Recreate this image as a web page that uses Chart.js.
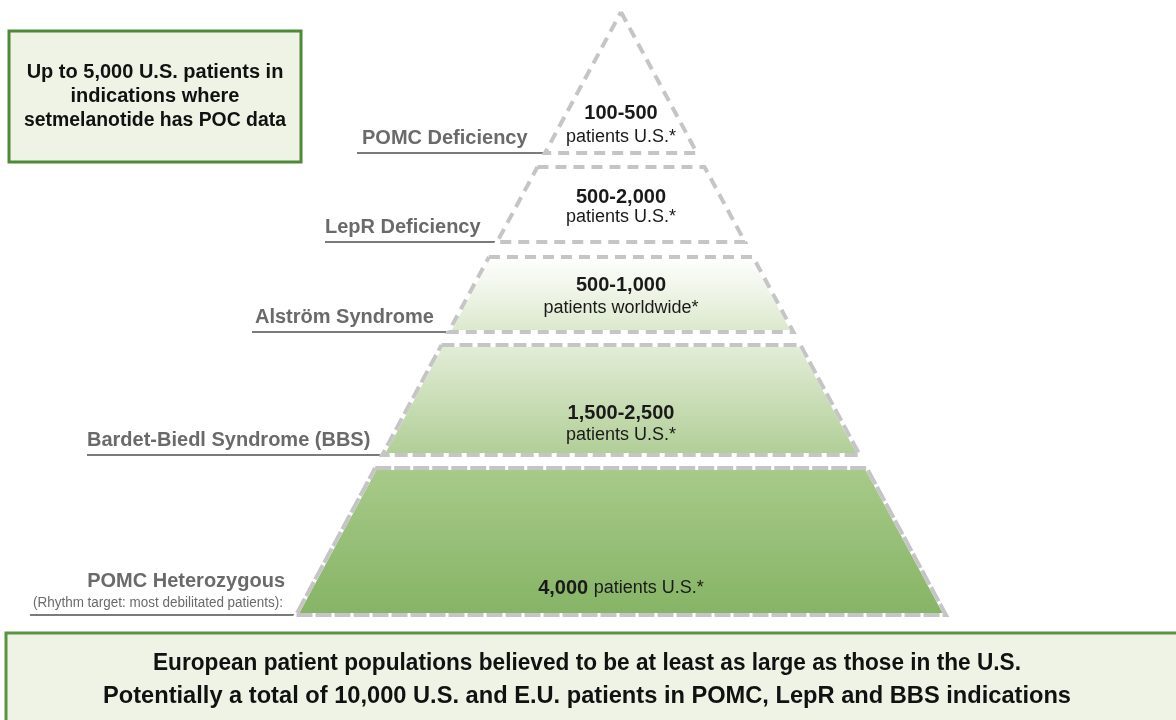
<!DOCTYPE html>
<html>
<head>
<meta charset="utf-8">
<script src="https://cdn.jsdelivr.net/npm/chart.js@4.4.1/dist/chart.umd.min.js"></script>
<style>
  html, body { margin: 0; padding: 0; background: #ffffff; }
  #pyramid { display: block; }
</style>
</head>
<body>
<canvas id="pyramid" width="1176" height="720"></canvas>
<script>
// Pyramid tiers, top to bottom
const tierNames = ["POMC Deficiency", "LepR Deficiency", "Alström Syndrome", "Bardet-Biedl Syndrome (BBS)", "POMC Heterozygous"];
const tierRanges = ["100-500", "500-2,000", "500-1,000", "1,500-2,500", "4,000"];
const tierUnits = ["patients U.S.*", "patients U.S.*", "patients worldwide*", "patients U.S.*", "patients U.S.*"];
const tierNotes = ["", "", "", "", "(Rhythm target: most debilitated patients):"];

// callout boxes
const topBoxLines = ["Up to 5,000 U.S. patients in", "indications where", "setmelanotide has POC data"];
const bottomBoxLines = [
  "European patient populations believed to be at least as large as those in the U.S.",
  "Potentially a total of 10,000 U.S. and E.U. patients in POMC, LepR and BBS indications"
];

// layout, in scale units (the hidden axes run 0..1176 and 0..720)
const apex = { x: 621, y: 12 };
const baseY = 615;
const baseHalf = 325;
const tierBands = [[12, 153], [167, 242], [257, 332], [345, 455], [468, 615]];
const tierFills = [["#ffffff", "#ffffff"], ["#ffffff", "#ffffff"], ["#ffffff", "#dbe8cc"], ["#e3edd8", "#b1ce96"], ["#a8ca8a", "#86b465"]];
const tierDash = [[11, 7], [11, 7], [11, 7], [13, 5], [16, 3]];
const rangeDy = [-40, -45, -47, -42, -27];
const unitDy = [-16, -25, -24, -20, null];
const leaderStart = [357, 325, 252, 87, 30];
const labelX = [362, 325, 255, 87, 285];

const FONT = "'Liberation Sans', Arial, Helvetica, sans-serif";

function halfWidth(y) {
  return baseHalf * (y - apex.y) / (baseY - apex.y);
}

function tierShape(i) {
  const top = tierBands[i][0], bottom = tierBands[i][1];
  const ht = halfWidth(top), hb = halfWidth(bottom);
  const pts = [];
  if (ht < 1) {
    pts.push({ x: apex.x, y: top });
  } else {
    pts.push({ x: apex.x - ht, y: top });
    pts.push({ x: apex.x + ht, y: top });
  }
  pts.push({ x: apex.x + hb, y: bottom });
  pts.push({ x: apex.x - hb, y: bottom });
  pts.push({ x: pts[0].x, y: pts[0].y });
  return pts;
}

function tierGradient(i) {
  return function (context) {
    const chart = context.chart;
    if (!chart.chartArea) return tierFills[i][1];
    const ys = chart.scales.y;
    const g = chart.ctx.createLinearGradient(0, ys.getPixelForValue(tierBands[i][0]), 0, ys.getPixelForValue(tierBands[i][1]));
    g.addColorStop(0, tierFills[i][0]);
    g.addColorStop(1, tierFills[i][1]);
    return g;
  };
}

const datasets = [];
tierNames.forEach(function (name, i) {
  const bottom = tierBands[i][1];
  // leader line under the label
  datasets.push({
    label: name + " leader",
    data: [{ x: leaderStart[i], y: bottom }, { x: apex.x - halfWidth(bottom), y: bottom }],
    borderColor: "#7b7b7b",
    borderWidth: 2,
    order: 3
  });
  // tier body with white edge
  datasets.push({
    label: name,
    data: tierShape(i),
    fill: "shape",
    backgroundColor: tierGradient(i),
    borderColor: "#ffffff",
    borderWidth: 4,
    order: 2
  });
  // dashed grey outline
  datasets.push({
    label: name + " outline",
    data: tierShape(i),
    fill: false,
    borderColor: "#c5c5c5",
    borderWidth: 4,
    borderDash: tierDash[i],
    borderJoinStyle: "miter",
    order: 1
  });
});

// boxes and text, placed through the chart scales
const annotations = {
  id: "annotations",
  afterDraw: function (chart) {
    const c = chart.ctx;
    const xs = chart.scales.x, ys = chart.scales.y;
    const px = function (v) { return xs.getPixelForValue(v); };
    const py = function (v) { return ys.getPixelForValue(v); };

    c.save();

    // top-left callout
    c.fillStyle = "#eff3e5";
    c.strokeStyle = "#4c8a35";
    c.lineWidth = 3;
    c.fillRect(px(9), py(31), px(301) - px(9), py(162) - py(31));
    c.strokeRect(px(9), py(31), px(301) - px(9), py(162) - py(31));
    c.fillStyle = "#111111";
    c.font = "bold 20px " + FONT;
    c.textAlign = "center";
    c.textBaseline = "middle";
    topBoxLines.forEach(function (t, k) {
      c.fillText(t, px(155), py(72 + k * 24), 262);
    });

    // bottom callout
    c.fillStyle = "#eff3e5";
    c.strokeStyle = "#5a9440";
    c.lineWidth = 3;
    c.fillRect(px(6), py(633), px(1190) - px(6), py(730) - py(633));
    c.strokeRect(px(6), py(633), px(1190) - px(6), py(730) - py(633));
    c.fillStyle = "#111111";
    c.font = "bold 24px " + FONT;
    c.fillText(bottomBoxLines[0], px(587), py(663), 868);
    c.fillText(bottomBoxLines[1], px(587), py(696), 968);

    // tier labels on the left
    c.fillStyle = "#6a6a6a";
    c.textBaseline = "alphabetic";
    tierNames.forEach(function (name, i) {
      const bottom = tierBands[i][1];
      c.font = "bold 20px " + FONT;
      if (tierNotes[i]) {
        c.textAlign = "right";
        c.fillText(name, px(labelX[i]), py(bottom - 28));
        c.font = "14px " + FONT;
        c.fillText(tierNotes[i], px(labelX[i] - 2), py(bottom - 8), 250);
      } else {
        c.textAlign = "left";
        c.fillText(name, px(labelX[i]), py(bottom - 9));
      }
    });

    // figures inside the pyramid
    c.fillStyle = "#1a1a1a";
    c.textBaseline = "middle";
    tierRanges.forEach(function (r, i) {
      const bottom = tierBands[i][1];
      if (unitDy[i] !== null) {
        c.textAlign = "center";
        c.font = "bold 20px " + FONT;
        c.fillText(r, px(apex.x), py(bottom + rangeDy[i]));
        c.font = "18px " + FONT;
        c.fillText(tierUnits[i], px(apex.x), py(bottom + unitDy[i]));
      } else {
        // single line: bold figure followed by regular unit
        c.font = "bold 20px " + FONT;
        const w1 = c.measureText(r + " ").width;
        c.font = "18px " + FONT;
        const w2 = c.measureText(tierUnits[i]).width;
        const x0 = px(apex.x) - (w1 + w2) / 2;
        c.textAlign = "left";
        c.font = "bold 20px " + FONT;
        c.fillText(r + " ", x0, py(bottom + rangeDy[i]));
        c.font = "18px " + FONT;
        c.fillText(tierUnits[i], x0 + w1, py(bottom + rangeDy[i]));
      }
    });

    c.restore();
  }
};

new Chart(document.getElementById("pyramid"), {
  type: "line",
  data: { datasets: datasets },
  options: {
    responsive: false,
    devicePixelRatio: 1,
    animation: false,
    parsing: true,
    layout: { padding: 0 },
    elements: {
      point: { radius: 0, hoverRadius: 0 },
      line: { tension: 0 }
    },
    scales: {
      x: { type: "linear", min: 0, max: 1176, display: false },
      y: { type: "linear", min: 0, max: 720, reverse: true, display: false }
    },
    plugins: {
      legend: { display: false },
      tooltip: { enabled: false }
    }
  },
  plugins: [annotations]
});
</script>
</body>
</html>
